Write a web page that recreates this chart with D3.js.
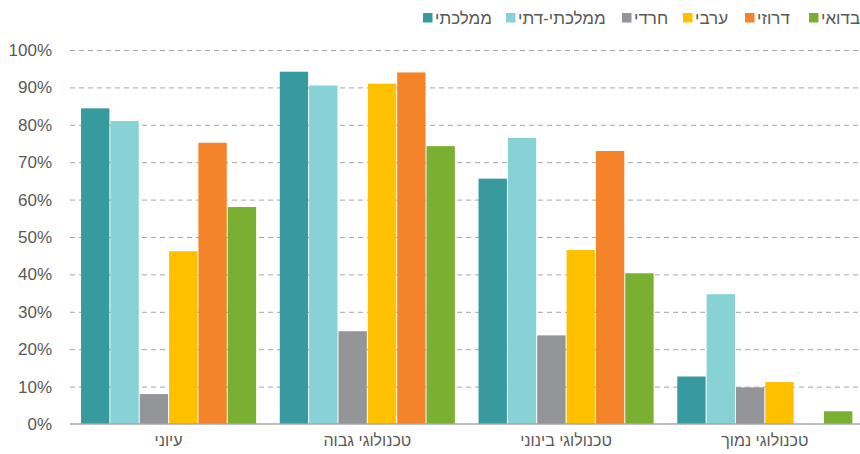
<!DOCTYPE html>
<html>
<head>
<meta charset="utf-8">
<script src="https://cdn.jsdelivr.net/npm/d3@7"></script>
<style>
  body { margin: 0; background: #fff; }
  svg text { font-family: Arial, "Liberation Sans", sans-serif; fill: #595959; }
</style>
</head>
<body>
<div id="chart"></div>
<script>
// chart size
var width = 860;
var height = 454;

// categories (left to right) and series
var categories = ["עיוני", "טכנולוגי גבוה", "טכנולוגי בינוני", "טכנולוגי נמוך"];
var seriesNames = ["ממלכתי", "ממלכתי-דתי", "חרדי", "ערבי", "דרוזי", "בדואי"];
var seriesColors = ["#369A9E", "#88D1D5", "#939598", "#FFC000", "#F5832A", "#7AB032"];

// values in percent, one array per series (order follows categories)
var mamlachti     = [84.4, 94.2, 65.6, 12.7];
var mamlachtiDati = [81.0, 90.5, 76.5, 34.7];
var haredi        = [8.0, 24.8, 23.7, 9.8];
var aravi         = [46.2, 91.0, 46.5, 11.2];
var druzi         = [75.2, 94.0, 73.0, null];
var bedui         = [58.0, 74.3, 40.3, 3.4];
var seriesValues = [mamlachti, mamlachtiDati, haredi, aravi, druzi, bedui];

var yTicks = [0, 10, 20, 30, 40, 50, 60, 70, 80, 90, 100];

// plot area
var plotLeft = 70, plotRight = 860, plotTop = 50, plotBottom = 424;

var svg = d3.select("#chart")
    .append("svg")
    .attr("width", width)
    .attr("height", height);

var x0 = d3.scaleBand()
    .domain(categories)
    .range([plotLeft, 863.4])
    .paddingInner(0.114)
    .paddingOuter(0.053);

var x1 = d3.scaleBand()
    .domain(seriesNames)
    .range([0, x0.bandwidth()])
    .padding(0);

var y = d3.scaleLinear()
    .domain([0, 100])
    .range([plotBottom, plotTop]);

// dashed gridlines
svg.append("g")
    .selectAll("line")
    .data(yTicks.filter(function (d) { return d > 0; }))
    .enter()
    .append("line")
    .attr("x1", plotLeft)
    .attr("x2", plotRight)
    .attr("y1", function (d) { return y(d) + 0.5; })
    .attr("y2", function (d) { return y(d) + 0.5; })
    .attr("stroke", "#A6A6A6")
    .attr("stroke-width", 1)
    .attr("stroke-dasharray", "5,4");

// y axis labels
svg.append("g")
    .selectAll("text")
    .data(yTicks)
    .enter()
    .append("text")
    .attr("x", 52)
    .attr("y", function (d) { return y(d); })
    .attr("dy", "0.35em")
    .attr("text-anchor", "end")
    .style("font-size", "17px")
    .text(function (d) { return d + "%"; });

// bars
var rows = [];
seriesNames.forEach(function (s, i) {
    categories.forEach(function (c, j) {
        if (seriesValues[i][j] != null) {
            rows.push({ series: s, cat: c, value: seriesValues[i][j], color: seriesColors[i] });
        }
    });
});

svg.append("g")
    .selectAll("rect")
    .data(rows)
    .enter()
    .append("rect")
    .attr("x", function (d) { return x0(d.cat) + x1(d.series) + 0.5; })
    .attr("width", x1.bandwidth() - 1)
    .attr("y", function (d) { return y(d.value); })
    .attr("height", function (d) { return y(0) - y(d.value); })
    .attr("fill", function (d) { return d.color; });

// baseline
svg.append("line")
    .attr("x1", plotLeft)
    .attr("x2", plotRight)
    .attr("y1", plotBottom)
    .attr("y2", plotBottom)
    .attr("stroke", "#A6A6A6")
    .attr("stroke-width", 1.5);

// category labels
svg.append("g")
    .selectAll("text")
    .data(categories)
    .enter()
    .append("text")
    .attr("x", function (d) { return x0(d) + x0.bandwidth() / 2; })
    .attr("y", 446)
    .attr("text-anchor", "middle")
    .style("font-size", "16px")
    .text(function (d) { return d; });

// legend (left to right)
var legendX = [423, 506, 622, 683, 745, 809];
var legend = svg.append("g")
    .selectAll("g")
    .data(seriesNames)
    .enter()
    .append("g")
    .attr("transform", function (d, i) { return "translate(" + legendX[i] + ",13)"; });

legend.append("rect")
    .attr("width", 9.5)
    .attr("height", 9.5)
    .attr("fill", function (d, i) { return seriesColors[i]; });

legend.append("text")
    .attr("x", 12)
    .attr("y", 10.5)
    .style("font-size", "17px")
    .text(function (d) { return d; });
</script>
</body>
</html>
